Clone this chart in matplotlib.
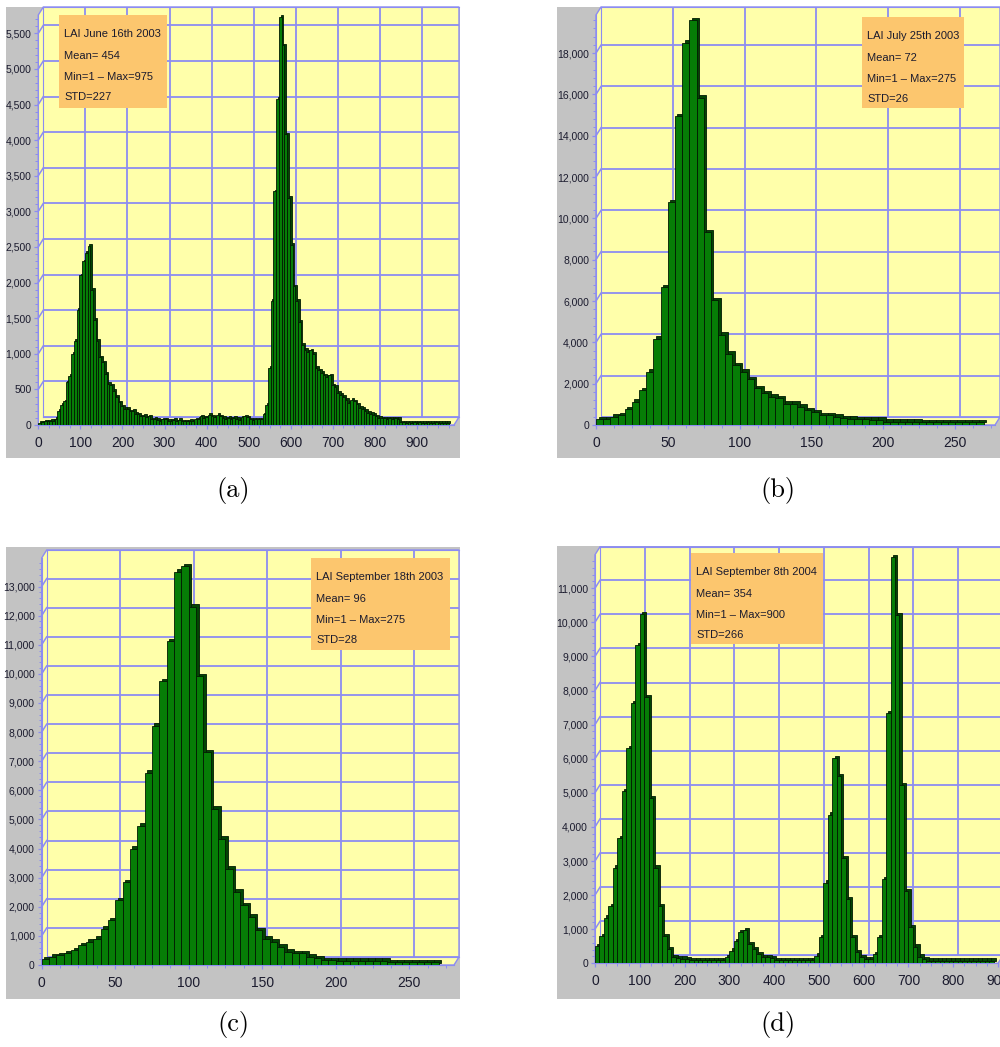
import matplotlib
matplotlib.use("Agg")
import matplotlib.pyplot as plt
import numpy as np
from matplotlib import font_manager
from matplotlib.patches import Rectangle, Polygon
from matplotlib.lines import Line2D
from matplotlib.transforms import offset_copy, IdentityTransform
from matplotlib.ticker import MultipleLocator, FuncFormatter

# LAI histograms (pixel counts per bin)
june03_width = 6.5
june03_counts = [
    30, 40, 50, 50, 60, 60, 90, 200, 280, 330,
    600, 690, 1000, 1180, 1620, 2100, 2300, 2420, 2520, 1900,
    1480, 1180, 950, 880, 720, 580, 560, 480, 400, 320,
    260, 230, 230, 190, 200, 160, 150, 120, 130, 110,
    120, 80, 90, 70, 60, 80, 80, 60, 60, 70,
    50, 70, 50, 50, 50, 60, 50, 80, 90, 120,
    100, 110, 140, 120, 110, 140, 120, 100, 90, 100,
    90, 100, 90, 70, 110, 120, 110, 80, 70, 80,
    80, 80, 150, 280, 800, 1740, 3280, 4580, 5730, 5330,
    4080, 3190, 2530, 1950, 1740, 1450, 1130, 1060, 1030, 1050,
    1000, 800, 770, 730, 700, 680, 700, 560, 540, 450,
    420, 400, 350, 310, 350, 330, 290, 240, 230, 200,
    170, 160, 140, 120, 100, 95, 95, 90, 95, 90,
    95, 90, 40, 40, 35, 40, 35, 40, 35, 40,
    35, 35, 40, 35, 35, 40, 35, 35, 35, 30,
]

july03_width = 5
july03_counts = [
    290, 290, 400, 480, 770, 1120, 1690, 2570, 4180, 6670,
    10770, 14950, 18500, 19600, 15830, 9320, 6030, 4370, 3450, 2890,
    2570, 2220, 1770, 1530, 1370, 1290, 1040, 1040, 880, 720,
    610, 480, 480, 400, 320, 300, 280, 280, 260, 260,
    160, 150, 150, 150, 150, 140, 140, 140, 140, 140,
    140, 140, 140, 140,
]

sept03_width = 5
sept03_counts = [
    200, 285, 340, 400, 510, 680, 800, 910, 1250, 1540,
    2220, 2850, 3990, 4790, 6610, 8210, 9750, 11120, 13510, 13700,
    12310, 9920, 7300, 5360, 4330, 3310, 2510, 2050, 1650, 1200,
    910, 800, 630, 460, 400, 400, 285, 230, 170, 170,
    140, 140, 140, 140, 140, 140, 140, 90, 90, 90,
    90, 90, 90, 90,
]

sept04_width = 10
sept04_counts = [
    516, 808, 1343, 1684, 2804, 3680, 5043, 6308, 7623, 9326,
    10250, 7817, 4848, 2804, 1684, 808, 419, 175, 150, 140,
    120, 100, 100, 100, 100, 100, 100, 100, 100, 175,
    370, 662, 905, 973, 565, 419, 273, 175, 175, 150,
    100, 100, 100, 100, 100, 100, 100, 100, 100, 224,
    760, 2366, 4361, 6016, 5481, 3096, 1879, 760, 321, 175,
    127, 127, 273, 760, 2463, 7330, 11906, 10202, 5237, 2122,
    1051, 487, 195, 127, 80, 80, 80, 80, 80, 80,
    80, 80, 80, 80, 80, 80, 80, 80, 80,
]

titles = ["LAI June 16th 2003", "LAI July 25th 2003",
          "LAI September 18th 2003", "LAI September 8th 2004"]
means = [454, 72, 96, 354]
mins = [1, 1, 1, 1]
maxs = [975, 275, 275, 900]
stds = [227, 26, 28, 266]
sub_labels = ["(a)", "(b)", "(c)", "(d)"]

W, H = 1000, 1047
BLUE = "#8c8cf2"
YELLOW = "#ffffaa"
GRAY = "#c3c3c3"
ORANGE = "#fcc66e"
BAR = "#067d06"
BAR_TOP = "#034503"
EDGE = "#021a02"
TXT = "#1b1b2e"

names = {f.name for f in font_manager.fontManager.ttflist}
if "Liberation Sans Narrow" in names:
    NARROW = "Liberation Sans Narrow"
    XSIZE, YSIZE, TSIZE, SSIZE = 11, 9, 9.5, 9.5
else:
    NARROW = "Liberation Sans"
    XSIZE, YSIZE, TSIZE, SSIZE = 10, 7.5, 8.0, 8.0

# layout per panel, in pixels from the top-left corner
layouts = [
    dict(gray=(6, 7, 460, 458), front=(38.3, 15, 454, 425), depth=(5, 8),
         xmax=988, ymax=5757, xstep=100, xminor=25, ystep=500, yminor=100,
         bar3d=1.6, box=(59, 15, 167, 108), label=(233, 490)),
    dict(gray=(557, 7, 1000, 458), front=(596, 15, 995, 425), depth=(5, 8),
         xmax=277.9, ymax=19844, xstep=50, xminor=12.5, ystep=2000, yminor=400,
         bar3d=2.5, box=(862, 17, 964, 108), label=(778, 490)),
    dict(gray=(6, 547, 460, 999), front=(41.7, 558, 454, 965), depth=(5, 8),
         xmax=280.4, ymax=13980, xstep=50, xminor=12.5, ystep=1000, yminor=200,
         bar3d=2.5, box=(311, 558, 450, 650), label=(233, 1024)),
    dict(gray=(557, 546, 1000, 999), front=(595, 554.8, 998, 963.3), depth=(5, 8),
         xmax=900, ymax=11980, xstep=100, xminor=25, ystep=1000, yminor=200,
         bar3d=2.2, box=(691, 553, 823, 644), label=(778, 1024)),
]

fig = plt.figure(figsize=(W / 100, H / 100), dpi=100)
fig.patch.set_facecolor("white")


def frac(l, t, r, b):
    return [l / W, 1 - b / H, (r - l) / W, (b - t) / H]


def to_fig(x, y):
    return (x / W, 1 - y / H)


def draw_panel(counts, width, title, mean, vmin, vmax, std, label, lay):
    gl, gt, gr, gb = lay["gray"]
    fig.add_artist(Rectangle(to_fig(gl, gb), (gr - gl) / W, (gb - gt) / H,
                             transform=fig.transFigure, facecolor=GRAY,
                             edgecolor="none", zorder=-3))
    fl, ft, fr_, fb = lay["front"]
    dx, dy = lay["depth"]
    # floor, side wall and back wall of the 3D box
    pts = [(fl, fb), (fr_, fb), (fr_ + dx, fb - dy), (fr_ + dx, ft - dy),
           (fl + dx, ft - dy), (fl, ft)]
    fig.add_artist(Polygon([to_fig(x, y) for x, y in pts], closed=True,
                           transform=fig.transFigure, facecolor=YELLOW,
                           edgecolor=BLUE, lw=1.0, zorder=-2))

    back = fig.add_axes(frac(fl + dx, ft - dy, fr_ + dx, fb - dy), zorder=0)
    front = fig.add_axes(frac(fl, ft, fr_, fb), zorder=1)

    lefts = np.arange(len(counts)) * width
    d = lay["bar3d"]
    shifted = offset_copy(front.transData, fig=fig, x=d, y=d, units="dots")
    front.bar(lefts, counts, width, align="edge", color=BAR_TOP,
              edgecolor=EDGE, lw=0.6, transform=shifted, clip_on=False, zorder=2)
    front.bar(lefts, counts, width, align="edge", color=BAR,
              edgecolor=EDGE, lw=0.6, zorder=3)

    for ax in (back, front):
        ax.set_xlim(0, lay["xmax"])
        ax.set_ylim(0, lay["ymax"])
        ax.xaxis.set_major_locator(MultipleLocator(lay["xstep"]))
        ax.yaxis.set_major_locator(MultipleLocator(lay["ystep"]))
        ax.patch.set_visible(False)

    back.grid(True, color=BLUE, lw=1.3)
    back.set_axisbelow(True)
    back.tick_params(length=0, labelbottom=False, labelleft=False)
    back.spines["right"].set_visible(False)
    for s in ("left", "bottom", "top"):
        back.spines[s].set_color(BLUE)

    front.spines["top"].set_visible(False)
    front.spines["right"].set_visible(False)
    for s in ("left", "bottom"):
        front.spines[s].set_color(BLUE)
    front.xaxis.set_minor_locator(MultipleLocator(lay["xminor"]))
    front.yaxis.set_minor_locator(MultipleLocator(lay["yminor"]))
    front.yaxis.set_major_formatter(FuncFormatter(lambda v, p: f"{int(v):,}"))
    front.xaxis.set_major_formatter(FuncFormatter(lambda v, p: f"{int(v)}"))
    front.tick_params(which="major", direction="out", color=BLUE, length=3,
                      width=0.9, labelcolor=TXT)
    front.tick_params(which="minor", direction="out", color=BLUE, length=2,
                      width=0.7)
    front.tick_params(axis="x", pad=5, labelsize=XSIZE)
    front.tick_params(axis="y", pad=2, labelsize=YSIZE)
    for t in front.get_xticklabels() + front.get_yticklabels():
        t.set_fontfamily(NARROW)

    # side-wall links from the front axis to the back grid lines
    fig.canvas.draw()
    for v in front.get_yticks():
        if 0 < v <= lay["ymax"]:
            x0, y0 = front.transData.transform((0, v))
            fig.add_artist(Line2D([x0, x0 + dx], [y0, y0 + dy], color=BLUE,
                                  lw=1.1, transform=IdentityTransform(), zorder=-1))

    bl, bt, br, bb = lay["box"]
    fig.add_artist(Rectangle(to_fig(bl, bb), (br - bl) / W, (bb - bt) / H,
                             transform=fig.transFigure, facecolor=ORANGE,
                             edgecolor="none", zorder=4))
    lines = [title, f"Mean= {mean}", f"Min={vmin} \u2013 Max={vmax}", f"STD={std}"]
    offsets = [22, 44, 65, 85]
    sizes = [TSIZE, SSIZE, SSIZE, SSIZE]
    for s, off, fs in zip(lines, offsets, sizes):
        fig.text(*to_fig(bl + 5, bt + off), s, fontsize=fs, family=NARROW,
                 color=TXT, va="baseline", ha="left", zorder=5)

    fig.text(*to_fig(*lay["label"]), label, fontsize=19, family="cmr10",
             ha="center", va="center", color="black")


data = [(june03_counts, june03_width), (july03_counts, july03_width),
        (sept03_counts, sept03_width), (sept04_counts, sept04_width)]
for i, (counts, width) in enumerate(data):
    draw_panel(counts, width, titles[i], means[i], mins[i], maxs[i], stds[i],
               sub_labels[i], layouts[i])

fig.savefig("out.png", dpi=100)
